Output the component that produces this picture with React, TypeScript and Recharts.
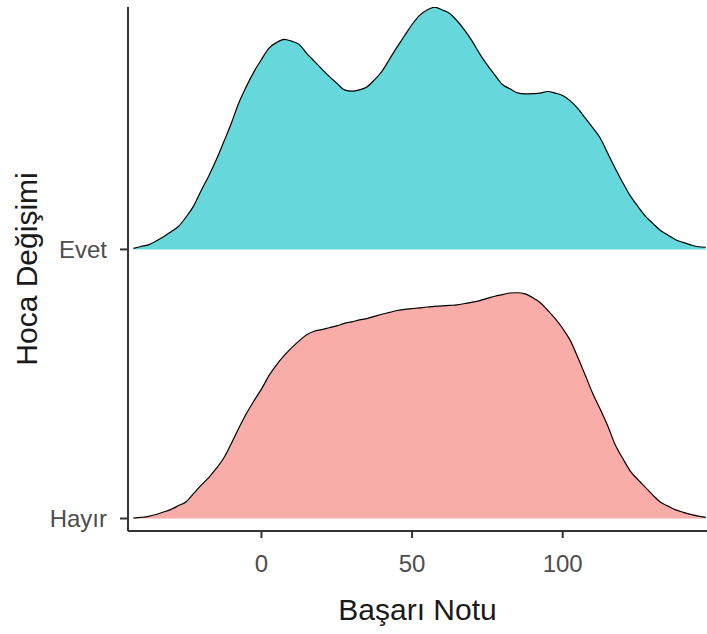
import { ComposedChart, Area, XAxis, YAxis } from "recharts";

// Başarı Notu grid (x values of the density curves)
const notlar = [
  -42.5, -40, -37.5, -35, -32.5, -30, -27.5, -25, -22.5, -20, -17.5, -15, -12.5, -10, -7.5, -5, -2.5,
  0, 2.5, 5, 7.5, 10, 12.5, 15, 17.5, 20, 22.5, 25, 27.5, 30, 32.5, 35, 37.5, 40, 42.5, 45, 47.5,
  50, 52.5, 55, 57.5, 60, 62.5, 65, 67.5, 70, 72.5, 75, 77.5, 80, 82.5, 85, 87.5, 90, 92.5, 95, 97.5,
  100, 102.5, 105, 107.5, 110, 112.5, 115, 117.5, 120, 122.5, 125, 127.5, 130, 132.5, 135, 137.5,
  140, 142.5, 145, 147.5,
];

// ridge heights (1 = distance between the two rows)
const evet = [
  0.004, 0.011, 0.017, 0.031, 0.047, 0.066, 0.086, 0.121, 0.162, 0.219, 0.273, 0.333, 0.4, 0.469,
  0.545, 0.606, 0.66, 0.706, 0.748, 0.769, 0.781, 0.774, 0.762, 0.729, 0.7, 0.671, 0.643, 0.618,
  0.593, 0.588, 0.593, 0.604, 0.63, 0.662, 0.707, 0.752, 0.794, 0.836, 0.87, 0.89, 0.9, 0.89, 0.877,
  0.849, 0.814, 0.773, 0.726, 0.685, 0.648, 0.613, 0.597, 0.582, 0.578, 0.579, 0.581, 0.587, 0.581,
  0.572, 0.552, 0.524, 0.488, 0.452, 0.413, 0.356, 0.3, 0.247, 0.198, 0.159, 0.123, 0.096, 0.07,
  0.053, 0.036, 0.026, 0.017, 0.01, 0.008,
];

const hayir = [
  0.001, 0.004, 0.008, 0.015, 0.024, 0.034, 0.048, 0.062, 0.093, 0.124, 0.152, 0.186, 0.225, 0.279,
  0.336, 0.39, 0.437, 0.481, 0.531, 0.571, 0.605, 0.634, 0.66, 0.683, 0.696, 0.702, 0.709, 0.716,
  0.725, 0.731, 0.738, 0.743, 0.751, 0.759, 0.766, 0.773, 0.777, 0.78, 0.783, 0.786, 0.788, 0.79,
  0.792, 0.794, 0.799, 0.804, 0.81, 0.818, 0.826, 0.832, 0.838, 0.839, 0.835, 0.821, 0.803, 0.774,
  0.743, 0.706, 0.662, 0.599, 0.532, 0.464, 0.405, 0.343, 0.272, 0.222, 0.175, 0.144, 0.115, 0.086,
  0.06, 0.046, 0.032, 0.023, 0.015, 0.009, 0.004,
];

const gruplar = ["Hayır", "Evet"];
const xTicks = [0, 50, 100];

const data = notlar.map((x, i) => ({ x, hayir: hayir[i], evet: 1 + evet[i] }));

const font = "'Liberation Sans', Arial, Helvetica, sans-serif";

function XTitle({ viewBox }: any) {
  return (
    <text x={viewBox.x + viewBox.width / 2} y={620} textAnchor="middle" fontSize={30} fill="#1a1a1a" fontFamily={font}>
      Başarı Notu
    </text>
  );
}

function YTitle({ viewBox }: any) {
  const cy = viewBox.y + viewBox.height / 2;
  return (
    <text x={37} y={cy} transform={`rotate(-90 37 ${cy})`} textAnchor="middle" fontSize={30} fill="#1a1a1a" fontFamily={font}>
      Hoca Değişimi
    </text>
  );
}

export default function App() {
  return (
    <div style={{ position: "absolute", left: 0, top: 0, background: "#fff" }}>
      <ComposedChart width={707} height={634} data={data} margin={{ top: 7, right: 0, bottom: 0, left: 0 }}>
        <XAxis
          type="number"
          dataKey="x"
          domain={[-44.3, 147.9]}
          ticks={xTicks}
          allowDataOverflow
          height={103}
          tickSize={7}
          tickMargin={17}
          tick={{ fill: "#4d4d4d", fontSize: 24, fontFamily: font }}
          axisLine={{ stroke: "#333", strokeWidth: 2 }}
          tickLine={{ stroke: "#333", strokeWidth: 2 }}
          label={<XTitle />}
        />
        <YAxis
          type="number"
          domain={[-0.0465, 1.901]}
          ticks={[0, 1]}
          allowDataOverflow
          width={128}
          tickSize={8}
          tickMargin={13}
          tickFormatter={(v) => gruplar[v]}
          tick={{ fill: "#4d4d4d", fontSize: 24, fontFamily: font }}
          axisLine={{ stroke: "#333", strokeWidth: 2 }}
          tickLine={{ stroke: "#333", strokeWidth: 2 }}
          label={<YTitle />}
        />
        <Area
          type="monotone"
          dataKey="hayir"
          baseValue={0}
          fill="#f9ada8"
          fillOpacity={1}
          stroke="#000"
          strokeWidth={1.2}
          dot={false}
          activeDot={false}
          isAnimationActive={false}
        />
        <Area
          type="monotone"
          dataKey="evet"
          baseValue={1}
          fill="#66d8db"
          fillOpacity={1}
          stroke="#000"
          strokeWidth={1.2}
          dot={false}
          activeDot={false}
          isAnimationActive={false}
        />
      </ComposedChart>
    </div>
  );
}
